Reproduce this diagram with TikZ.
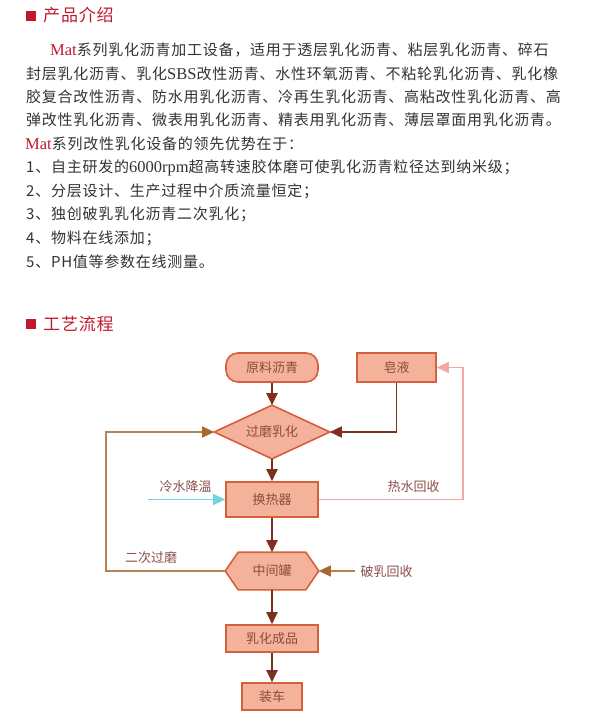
\documentclass[tikz,border=0pt]{standalone}
\usepackage{fontspec}
\setmainfont{Noto Sans CJK SC}
\newfontfamily\cjk[LetterSpace=5]{Noto Sans CJK SC}
\newfontfamily\lat{Liberation Serif}
\usetikzlibrary{arrows.meta,backgrounds}
\definecolor{hred}{HTML}{C3182C}
\definecolor{body}{HTML}{333333}
\definecolor{boxfill}{HTML}{F4B29A}
\definecolor{bord}{HTML}{D5603D}
\definecolor{boxtxt}{HTML}{8C4B3E}
\definecolor{darr}{HTML}{7E2F22}
\definecolor{tanl}{HTML}{B5834F}
\definecolor{tanh}{HTML}{A8692C}
\definecolor{pinkl}{HTML}{F2A7A6}
\definecolor{cyanl}{HTML}{6ED6DC}
\definecolor{labtxt}{HTML}{8A4E4A}
\tikzset{
  bodyline/.style={anchor=west, inner sep=0, text=body, font=\cjk\fontsize{15}{15}\selectfont},
  hdtext/.style={anchor=west, inner sep=0, text=hred, font=\cjk\fontsize{17}{17}\selectfont},
  hdsq/.style={fill=hred, minimum size=10pt, inner sep=0},
  procbox/.style={draw=bord, fill=boxfill, line width=1.6pt, text=boxtxt, font=\fontsize{13}{13}\selectfont, inner sep=0},
  lab/.style={text=labtxt, font=\fontsize{13}{13}\selectfont, inner sep=0},
  darrow/.style={draw=darr, line width=2pt, -{Triangle[length=12pt,width=11pt]}},
  tanarrow/.style={draw=tanl, line width=1.3pt, -{Triangle[length=12pt,width=11pt,color=tanh]}},
  pinkarrow/.style={draw=pinkl, line width=1.3pt, -{Triangle[length=12pt,width=11pt]}},
  cyanarrow/.style={draw=cyanl, line width=1.3pt, -{Triangle[length=12pt,width=11pt]}}
}
\newcommand{\mylat}[1]{{\lat\fontsize{16.5}{16.5}\selectfont #1}}
\begin{document}
\begin{tikzpicture}[x=1pt,y=-1pt]
\useasboundingbox (0,0) rectangle (589,721);
% headers
\node[hdsq] (sq1) at (30.5,15.5) {};
\node[hdtext] (h1) at (43,15) {产品介绍};
\node[hdsq] (sq2) at (30.5,323.5) {};
\node[hdtext] (h2) at (43,324) {工艺流程};
% body text
\node[bodyline] (l1) at (50,50) {{\color{hred}\mylat{Mat}}系列乳化沥青加工设备，适用于透层乳化沥青、粘层乳化沥青、碎石};
\node[bodyline] (l2) at (26,73.5) {封层乳化沥青、乳化\mylat{SBS}改性沥青、水性环氧沥青、不粘轮乳化沥青、乳化橡};
\node[bodyline] (l3) at (26,97) {胶复合改性沥青、防水用乳化沥青、冷再生乳化沥青、高粘改性乳化沥青、高};
\node[bodyline] (l4) at (26,120) {弹改性乳化沥青、微表用乳化沥青、精表用乳化沥青、薄层罩面用乳化沥青。};
\node[bodyline] (l5) at (25,144) {{\color{hred}\mylat{Mat}}系列改性乳化设备的领先优势在于：};
\node[bodyline] (l6) at (26,167.5) {1、自主研发的\mylat{6000rpm}超高转速胶体磨可使乳化沥青粒径达到纳米级；};
\node[bodyline] (l7) at (26,191) {2、分层设计、生产过程中介质流量恒定；};
\node[bodyline] (l8) at (26,214.5) {3、独创破乳乳化沥青二次乳化；};
\node[bodyline] (l9) at (26,238) {4、物料在线添加；};
\node[bodyline] (l10) at (26,261.5) {5、PH值等参数在线测量。};
% flowchart nodes
\node[procbox, rounded corners=12pt, minimum width=92pt, minimum height=29pt] (src) at (272,367.5) {原料沥青};
\node[procbox, minimum width=79pt, minimum height=29pt] (soap) at (396.5,367.5) {皂液};
\node[procbox, minimum width=92pt, minimum height=35pt] (hx) at (272,499.5) {换热器};
\node[procbox, draw=none, fill=none, minimum width=92pt, minimum height=36pt] (tank) at (272,571) {中间罐};
\node[procbox, minimum width=92pt, minimum height=27pt] (prod) at (272,638.5) {乳化成品};
\node[procbox, minimum width=60pt, minimum height=27pt] (load) at (272,696.5) {装车};
\node[procbox, draw=none, fill=none, minimum width=114pt, minimum height=52pt] (mill) at (272,432) {过磨乳化};
\begin{scope}[on background layer]
\draw[procbox] (mill.west) -- (mill.north) -- (mill.east) -- (mill.south) -- cycle;
\draw[procbox] (tank.west) -- ([xshift=13pt]tank.north west) -- ([xshift=-13pt]tank.north east) -- (tank.east) -- ([xshift=-13pt]tank.south east) -- ([xshift=13pt]tank.south west) -- cycle;
\end{scope}
% labels
\node[lab] (lcold) at (185.5,487) {冷水降温};
\node[lab] (lhot) at (413.5,487) {热水回收};
\node[lab] (ltwice) at (151,558) {二次过磨};
\node[lab] (lbreak) at (386.5,572) {破乳回收};
% coordinates
\coordinate (pk) at (463,499.5);
\coordinate (cw) at (148,499.5);
\coordinate (tl) at (106,571);
\coordinate (br) at (355,571);
% connectors
\draw[darrow] (src.south) -- (mill.north);
\draw[darrow, line width=1.6pt] (soap.south) |- (mill.east);
\draw[darrow] (mill.south) -- (hx.north);
\draw[darrow] (hx.south) -- (tank.north);
\draw[darrow] (tank.south) -- (prod.north);
\draw[darrow] (prod.south) -- (load.north);
\draw[cyanarrow] (cw) -- (hx.west);
\draw[pinkarrow] (hx.east) -- (pk) |- (soap.east);
\draw[tanarrow] (tank.west) -- (tl) |- (mill.west);
\draw[tanarrow] (br) -- (tank.east);
\end{tikzpicture}
\end{document}
